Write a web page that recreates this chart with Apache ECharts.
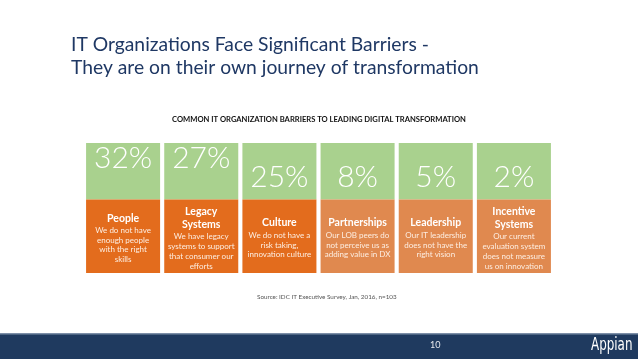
<!DOCTYPE html>
<html><head><meta charset="utf-8">
<script src="https://cdn.jsdelivr.net/npm/echarts@6/dist/echarts.min.js"></script>
<style>html,body{margin:0;padding:0;background:#fff}#c{width:638px;height:359px}</style>
</head><body><div id="c"></div>
<script>
// ---- data ----
const categories = ['People', 'Legacy Systems', 'Culture', 'Partnerships', 'Leadership', 'Incentive Systems'];
const percents = [32, 27, 25, 8, 5, 2];
const titleLines = [['People'], ['Legacy', 'Systems'], ['Culture'], ['Partnerships'], ['Leadership'], ['Incentive', 'Systems']];
const descLines = [
  ['We do not have', 'enough people', 'with the right', 'skills'],
  ['We have legacy', 'systems to support', 'that consumer our', 'efforts'],
  ['We do not have a', 'risk taking,', 'innovation culture'],
  ['Our LOB peers do', 'not perceive us as', 'adding value in DX'],
  ['Our IT leadership', 'does not have the', 'right vision'],
  ['Our current', 'evaluation system', 'does not measure', 'us on innovation']
];

// ---- styles / layout ----
const FONT = 'Lato, "Open Sans", sans-serif';
const green = '#a9d18e';
const orangeColors = ['#e36c1d', '#e36c1d', '#e36c1d', '#e0894f', '#e0894f', '#e0894f'];
const pctRaised = [true, true, false, false, false, false];
const SPLIT = 0.565; // green/orange boundary as fraction of panel height

const chart = echarts.init(document.getElementById('c'), null, {renderer: 'canvas'});

function renderItem(params, api) {
  const i = api.value(0);
  const top = api.coord([i, 1]);
  const bot = api.coord([i, 0]);
  const mid = api.coord([i, SPLIT]);
  const w = api.size([1, 0])[0] * 0.947;
  const x = top[0] - w / 2;
  const cx = top[0];
  const kids = [
    {type: 'rect', shape: {x: x, y: top[1], width: w, height: mid[1] - top[1]}, style: {fill: green}},
    {type: 'rect', shape: {x: x, y: mid[1], width: w, height: bot[1] - mid[1]}, style: {fill: orangeColors[i]}}
  ];
  const gh = mid[1] - top[1];
  const py = pctRaised[i] ? top[1] + 15.5 : top[1] + gh / 2 + 6.5;
  kids.push({type: 'text', x: cx, y: py, style: {
    text: api.value(1) + '%', fill: '#ffffff', fontSize: 30, fontFamily: FONT, fontWeight: 300,
    align: 'center', verticalAlign: 'middle'}});
  const tl = titleLines[i], dl = descLines[i];
  const TLH = 13.3, DLH = 9.8;
  const h = tl.length * TLH + dl.length * DLH;
  const oc = (mid[1] + bot[1]) / 2 + 1.5;
  let y = oc - h / 2 + TLH / 2;
  tl.forEach(function (t) {
    kids.push({type: 'text', x: cx, y: y, style: {text: t, fill: '#ffffff', fontSize: 10.5, fontWeight: 'bold',
      fontFamily: FONT, align: 'center', verticalAlign: 'middle'}});
    y += TLH;
  });
  y += (DLH - TLH) / 2 + 0.5;
  dl.forEach(function (t) {
    kids.push({type: 'text', x: cx, y: y, style: {text: t, fill: '#fdeee2', fontSize: 8,
      fontFamily: FONT, align: 'center', verticalAlign: 'middle'}});
    y += DLH;
  });
  return {type: 'group', children: kids};
}

chart.setOption({
  animation: false,
  backgroundColor: '#ffffff',
  title: [
    {text: 'IT Organizations Face Significant Barriers -\nThey are on their own journey of transformation',
     left: 71, top: 33, padding: 0,
     textStyle: {fontFamily: FONT, fontSize: 19.3, fontWeight: 'normal', color: '#1f3864', lineHeight: 23}},
    {text: 'COMMON IT ORGANIZATION BARRIERS TO LEADING DIGITAL TRANSFORMATION',
     left: 'center', top: 116, padding: 0,
     textStyle: {fontFamily: FONT, fontSize: 7.6, fontWeight: 'bold', color: '#111111'}},
    {text: 'Source: IDC IT Executive Survey, Jan, 2016, n=103',
     left: 257, top: 294, padding: 0,
     textStyle: {fontFamily: FONT, fontSize: 6.3, fontWeight: 'normal', color: '#555555'}}
  ],
  grid: {left: 84, right: 85, top: 143, bottom: 86},
  xAxis: {type: 'category', data: categories, show: false},
  yAxis: {type: 'value', min: 0, max: 1, show: false},
  series: [{
    type: 'custom',
    renderItem: renderItem,
    encode: {x: 0},
    data: percents.map(function (p, i) { return [i, p]; })
  }],
  graphic: [
    {type: 'rect', left: 0, top: 334, shape: {width: 638, height: 25}, style: {fill: '#1f3a5f'}, silent: true},
    {type: 'rect', left: 0, top: 333, shape: {width: 638, height: 1.5}, style: {fill: '#7d8fa8'}, silent: true},
    {type: 'text', left: 430, top: 341, style: {text: '10', fill: '#e6e9ef', fontSize: 9, fontFamily: FONT}},
    {type: 'text', x: 591, y: 337, scaleX: 0.78, style: {text: 'Appian', fill: '#ffffff', fontSize: 17,
      fontFamily: '"Liberation Sans Narrow", "DejaVu Sans Condensed", sans-serif'}}
  ]
});
</script>
</body></html>
